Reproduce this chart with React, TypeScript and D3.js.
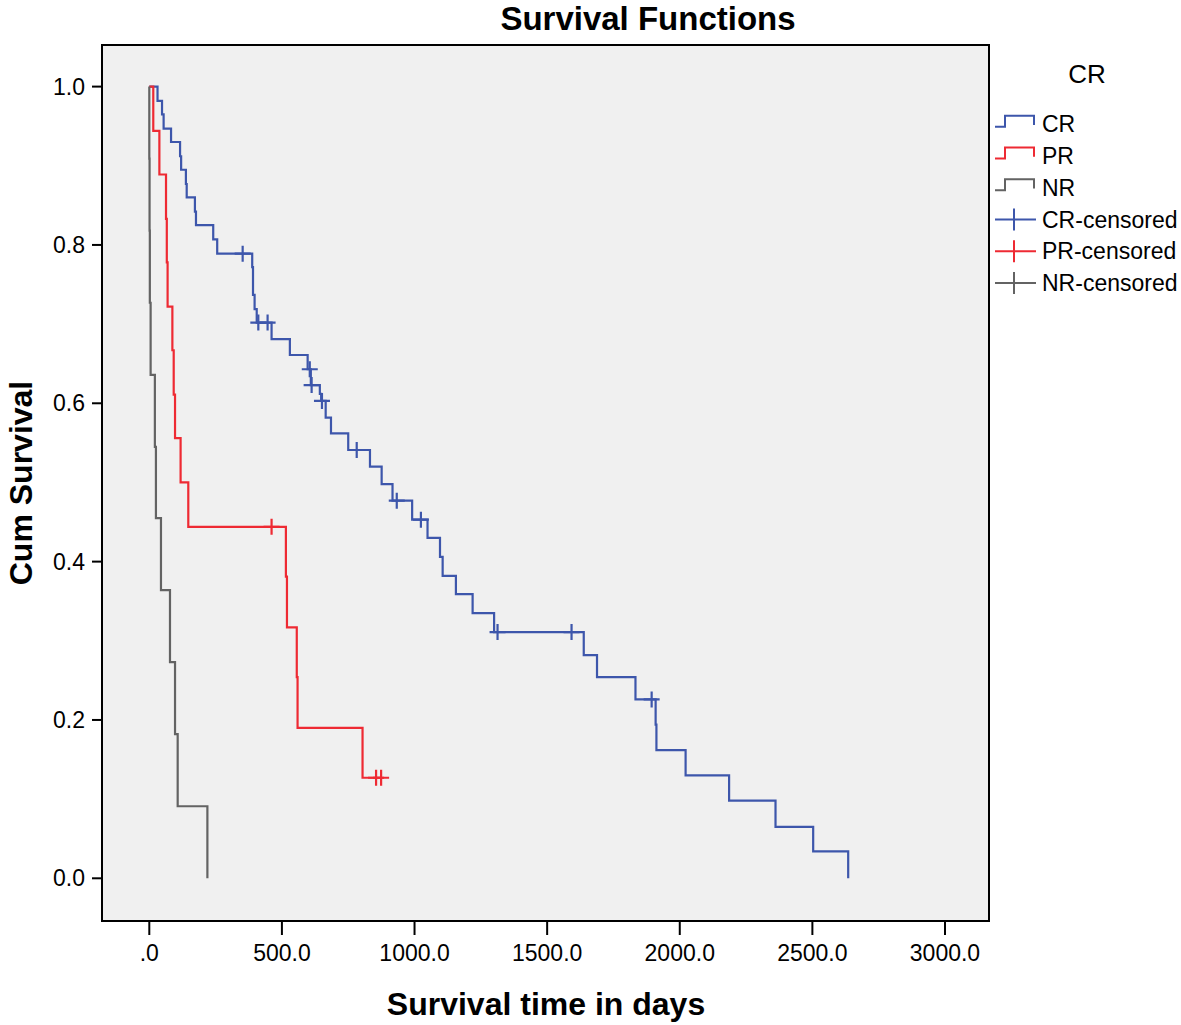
import React from 'react';
import * as d3 from 'd3';

const xTicks = [0, 500, 1000, 1500, 2000, 2500, 3000];
const yTicks = [0, 0.2, 0.4, 0.6, 0.8, 1.0];

const crTimes = [31, 48, 54, 82, 116, 120, 138, 141, 172, 176, 241, 256, 388, 391, 397, 405, 461, 530, 597, 609, 643, 648, 665, 685, 750, 832, 876, 917, 991, 1049, 1096, 1106, 1156, 1219, 1300, 1638, 1688, 1833, 1909, 1912, 2022, 2186, 2361, 2503, 2635];
const crSurv = [0.982, 0.965, 0.947, 0.930, 0.912, 0.895, 0.877, 0.860, 0.842, 0.825, 0.807, 0.789, 0.772, 0.737, 0.719, 0.702, 0.681, 0.661, 0.643, 0.623, 0.612, 0.603, 0.582, 0.562, 0.541, 0.520, 0.498, 0.477, 0.453, 0.430, 0.406, 0.382, 0.359, 0.335, 0.311, 0.282, 0.254, 0.226, 0.194, 0.162, 0.130, 0.098, 0.065, 0.034, 0.0];
const crCensored = [352, 411, 446, 605, 612, 651, 782, 933, 1024, 1313, 1592, 1894];

const prTimes = [15, 38, 63, 66, 69, 87, 92, 97, 118, 147, 515, 519, 556, 559, 804];
const prSurv = [0.944, 0.889, 0.833, 0.778, 0.722, 0.667, 0.611, 0.556, 0.500, 0.444, 0.381, 0.317, 0.254, 0.190, 0.127];
const prCensored = [461, 855, 874];

const nrTimes = [0, 1, 2, 5, 21, 25, 44, 78, 97, 107, 219];
const nrSurv = [0.909, 0.818, 0.727, 0.636, 0.545, 0.455, 0.364, 0.273, 0.182, 0.091, 0.0];
const nrCensored: number[] = [];

const groupNames = ['CR', 'PR', 'NR'];
const groupColors = ['#3d56ab', '#ee2a33', '#636363'];

const W = 1181;
const H = 1025;
const frame = { left: 102, right: 989, top: 45, bottom: 921 };
const FONT = '"Liberation Sans", Arial, Helvetica, sans-serif';

const x = d3.scaleLinear().domain([0, 3000]).range([149.3, 945]);
const y = d3.scaleLinear().domain([0, 1]).range([878.3, 86.6]);

function survAt(times: number[], surv: number[], t: number) {
  let s = 1;
  for (let i = 0; i < times.length; i++) {
    if (times[i] <= t) s = surv[i];
  }
  return s;
}

function buildPoints(times: number[], surv: number[], cens: number[]) {
  const pts: [number, number][] = [[0, 1]];
  times.forEach((t, i) => pts.push([t, surv[i]]));
  const lastEvent = times[times.length - 1];
  const lastCens = cens.length ? Math.max(...cens) : -Infinity;
  if (lastCens > lastEvent) pts.push([lastCens, surv[surv.length - 1]]);
  return pts;
}

const groups = [
  { times: crTimes, surv: crSurv, cens: crCensored },
  { times: prTimes, surv: prSurv, cens: prCensored },
  { times: nrTimes, surv: nrSurv, cens: nrCensored },
];

export default function App() {
  const line = d3
    .line<[number, number]>()
    .x((d) => x(d[0]))
    .y((d) => y(d[1]))
    .curve(d3.curveStepAfter);

  const legendRows = [
    ...groupNames.map((n, i) => ({ label: n, color: groupColors[i], kind: 'step' })),
    ...groupNames.map((n, i) => ({ label: n + '-censored', color: groupColors[i], kind: 'cens' })),
  ];

  return (
    <svg
      width={W}
      height={H}
      style={{ position: 'absolute', left: 0, top: 0, background: '#fff' }}
      fontFamily={FONT}
    >
      <rect x={0} y={0} width={W} height={H} fill="#fff" />
      <text x={648} y={30} textAnchor="middle" fontSize={33} fontWeight="bold" fill="#000">
        Survival Functions
      </text>
      <rect
        x={frame.left}
        y={frame.top}
        width={frame.right - frame.left}
        height={frame.bottom - frame.top}
        fill="#f0f0f0"
        stroke="none"
      />
      {groups.map((g, gi) => (
        <g key={gi}>
          <path
            d={line(buildPoints(g.times, g.surv, g.cens)) || ''}
            fill="none"
            stroke={groupColors[gi]}
            strokeWidth={2.2}
          />
          {g.cens.map((c, ci) => {
            const cx = x(c);
            const cy = y(survAt(g.times, g.surv, c));
            return (
              <path
                key={ci}
                d={`M${cx - 8},${cy}H${cx + 8}M${cx},${cy - 8}V${cy + 8}`}
                stroke={groupColors[gi]}
                strokeWidth={2.2}
                fill="none"
              />
            );
          })}
        </g>
      ))}
      <rect
        x={frame.left}
        y={frame.top}
        width={frame.right - frame.left}
        height={frame.bottom - frame.top}
        fill="none"
        stroke="#000"
        strokeWidth={2}
      />
      {yTicks.map((t) => (
        <g key={t}>
          <line x1={92} x2={frame.left} y1={y(t)} y2={y(t)} stroke="#000" strokeWidth={2} />
          <text x={85} y={y(t)} dy="0.35em" textAnchor="end" fontSize={23} fill="#000">
            {t.toFixed(1)}
          </text>
        </g>
      ))}
      {xTicks.map((t) => (
        <g key={t}>
          <line x1={x(t)} x2={x(t)} y1={frame.bottom} y2={935} stroke="#000" strokeWidth={2} />
          <text x={x(t)} y={961} textAnchor="middle" fontSize={23} fill="#000">
            {t === 0 ? '.0' : t.toFixed(1)}
          </text>
        </g>
      ))}
      <text x={546} y={1015} textAnchor="middle" fontSize={32} fontWeight="bold" fill="#000">
        Survival time in days
      </text>
      <text
        transform={`translate(32,${(frame.top + frame.bottom) / 2}) rotate(-90)`}
        textAnchor="middle"
        fontSize={32}
        fontWeight="bold"
        fill="#000"
      >
        Cum Survival
      </text>
      <text x={1087} y={83} textAnchor="middle" fontSize={26} fill="#000">
        CR
      </text>
      {legendRows.map((r, i) => {
        const cy = 124 + i * 31.8;
        return (
          <g key={r.label}>
            {r.kind === 'step' ? (
              <path
                d={`M995,${cy + 2.7}H1005V${cy - 8.3}H1034V${cy + 1}`}
                stroke={r.color}
                strokeWidth={2}
                fill="none"
              />
            ) : (
              <path
                d={`M995,${cy}H1036M1014,${cy - 11}V${cy + 11}`}
                stroke={r.color}
                strokeWidth={2}
                fill="none"
              />
            )}
            <text x={1042} y={cy} dy="0.36em" fontSize={23} fill="#000">
              {r.label}
            </text>
          </g>
        );
      })}
    </svg>
  );
}
